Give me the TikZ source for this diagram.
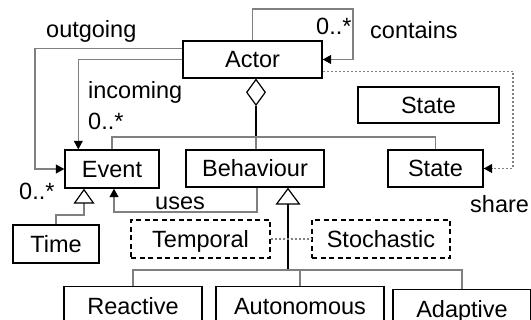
\documentclass[tikz,border=0pt]{standalone}
\usepackage{fontspec}
\setmainfont{Liberation Sans}
\usetikzlibrary{arrows.meta,calc,shapes.geometric}
\definecolor{conncol}{RGB}{128,128,128}
\begin{document}
\begin{tikzpicture}[x=1pt,y=-1pt, font=\fontsize{23.5}{28}\selectfont,
 box/.style={draw, line width=1.4pt, inner sep=0pt, text height=17pt, text depth=0pt, minimum height=38pt},
 dbox/.style={box, dash pattern=on 5pt off 3.5pt},
 conn/.style={draw=conncol, line width=1.1pt},
 dark/.style={draw=black, line width=1.4pt},
 dots/.style={draw=conncol, line width=1.2pt, dash pattern=on 2pt off 2pt},
 tip/.style={-{Triangle[length=8.5pt,width=9pt,color=black]}},
 lbl/.style={anchor=base west, inner sep=0pt}]

\clip (0,0) rectangle (531,320);

% boxes
\node[box, minimum width=139pt, minimum height=37pt] (actor) at (252.5,59.5) {Actor};
\node[box, minimum width=141pt, minimum height=36pt] (state1) at (428.5,105) {State};
\node[box, minimum width=94pt] (event) at (112,169) {Event};
\node[box, minimum width=138pt, minimum height=37pt] (behaviour) at (255,168.5) {Behaviour};
\node[box, minimum width=95pt, minimum height=37pt] (state2) at (435.5,168.5) {State};
\node[box, minimum width=86pt] (time) at (56,244) {Time};
\node[dbox, minimum width=139pt] (temporal) at (200.5,239) {Temporal};
\node[dbox, minimum width=138pt] (stochastic) at (381,239) {Stochastic};
\node[box, minimum width=138pt, anchor=north] (reactive) at (133,286) {Reactive};
\node[box, minimum width=168pt, anchor=north] (autonomous) at (300,286) {Autonomous};
\node[box, minimum width=138pt, anchor=north] (adaptive) at (462,289) {Adaptive};

% aggregation diamond
\node[draw, diamond, line width=1.2pt, minimum width=19pt, minimum height=26pt, inner sep=0pt, anchor=north] (agg) at ($(actor.south)+(3.5,0)$) {};

% self loop (contains)
\coordinate (loopc) at (353,9);
\draw[conn,tip] (actor.north) |- (loopc) |- (actor.east);

% outgoing
\coordinate (outc) at (35,100);
\draw[conn,tip] ($(actor.north west)+(0,8)$) -| (outc) |- (event.west);

% incoming
\draw[conn,tip] (actor.west) -| ($(event.north west)+(14,0)$);

% aggregation tree
\coordinate (aggj) at (256,137);
\draw[dark] (agg.south) -- (aggj);
\draw[conn] (aggj) -| (event.north);
\draw[conn] (aggj) -| (state2.north);
\draw[conn] (aggj) -- (aggj |- behaviour.north);

% share
\coordinate (sharec) at (513,120);
\draw[dots,tip] ($(actor.south east)+(0,-7)$) -| (sharec) |- (state2.east);

% Time generalises Event
\coordinate (genj1) at (84,215);
\draw[conn, -{Triangle[open,length=15pt,width=21pt,color=black,line width=1.2pt]}] (time.north) |- (genj1) -- (genj1 |- event.south);

% Behaviour generalisation tree
\coordinate (genj2) at (288,270);
\draw[dark, -{Triangle[open,length=17pt,width=25pt,color=black,line width=1.2pt]}] (genj2) -- (genj2 |- behaviour.south);
\draw[conn] (genj2) -| (reactive.north);
\draw[conn] (genj2) -| (adaptive.north);
\draw[conn] (genj2 -| autonomous.north) -- (autonomous.north);

% uses
\coordinate (usesc) at (114,212);
\draw[conn,tip] ($(behaviour.south)+(2,0)$) |- (usesc) -- (usesc |- event.south);

% temporal - stochastic
\draw[dots] (temporal.east) -- (stochastic.west);

% labels
\node[lbl] (lout) at (46,38) {outgoing};
\node[lbl] (lin) at (88,99) {incoming};
\node[lbl] (lmin) at (88,130) {0..*};
\node[lbl] (lmloop) at (316,35) {0..*};
\node[lbl] (lcont) at (370,39) {contains};
\node[lbl] (luses) at (155,210) {uses};
\node[lbl] (lmtime) at (19,200) {0..*};
\node[lbl] (lshare) at (470,213) {share};
\end{tikzpicture}
\end{document}
